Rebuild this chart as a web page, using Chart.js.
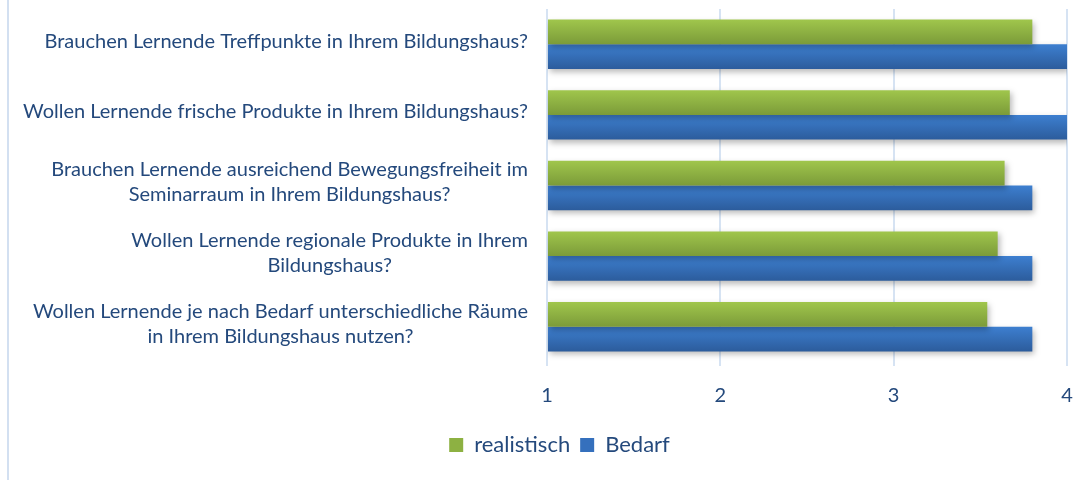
<!DOCTYPE html>
<html>
<head>
<meta charset="utf-8">
<script src="https://cdn.jsdelivr.net/npm/chart.js@4"></script>
<style>
  html, body { margin: 0; padding: 0; background: #fff; }
  #wrap { width: 1088px; height: 480px; position: relative; }
</style>
</head>
<body>
<div id="wrap"><canvas id="miGrafico" width="1088" height="480"></canvas></div>
<script>
const categories = [
  ['Brauchen Lernende Treffpunkte in Ihrem Bildungshaus?'],
  ['Wollen Lernende frische Produkte in Ihrem Bildungshaus?'],
  ['Brauchen Lernende ausreichend Bewegungsfreiheit im', 'Seminarraum in Ihrem Bildungshaus?'],
  ['Wollen Lernende regionale Produkte in Ihrem', 'Bildungshaus?'],
  ['Wollen Lernende je nach Bedarf unterschiedliche Räume', 'in Ihrem Bildungshaus nutzen?'],
]
const realistisch = [3.8, 3.67, 3.64, 3.6, 3.54]
const bedarf = [4, 4, 3.8, 3.8, 3.8]
const xTicks = [1, 2, 3, 4]

const textColor = '#24497c'
const fontName = 'Lato, "Open Sans", sans-serif'
const catPct = 0.7

// gradient per bar, worked out from the category scale
const barGradient = (top, bottom) => (ctx) => {
  const chart = ctx.chart
  const y = chart.scales.y
  if (!y || !chart.chartArea || ctx.dataIndex === undefined) return bottom
  const n = categories.length
  const catH = y.height / n
  const center = y.getPixelForValue(ctx.dataIndex)
  const groupH = catH * catPct
  const barH = groupH / 2
  const y0 = center - groupH / 2 + ctx.datasetIndex * barH
  const g = chart.ctx.createLinearGradient(0, y0, 0, y0 + barH)
  g.addColorStop(0, top)
  g.addColorStop(1, bottom)
  return g
}

const framePlugin = {
  id: 'frame',
  afterLayout: (chart) => {
    // legend sits a bit right of centre in the original
    chart.legend.left += 26
    chart.legend.right += 26
  },
  beforeDraw: (chart) => {
    const c = chart.ctx
    c.save()
    c.strokeStyle = '#d3e0f1'
    c.lineWidth = 2
    c.beginPath()
    c.moveTo(8, 0)
    c.lineTo(8, chart.height)
    c.stroke()
    c.restore()
  },
  beforeDatasetsDraw: (chart) => {
    const c = chart.ctx
    c.save()
    c.shadowColor = 'rgba(0,0,0,0.28)'
    c.shadowBlur = 6
    c.shadowOffsetX = 2
    c.shadowOffsetY = 3
  },
  afterDatasetsDraw: (chart) => {
    chart.ctx.restore()
  },
}

// category labels: block right aligned, lines centred inside the block
const labelPlugin = {
  id: 'catLabels',
  afterDraw: (chart) => {
    const c = chart.ctx
    const y = chart.scales.y
    const right = chart.chartArea.left - 19
    const lineH = 25
    c.save()
    c.font = '20px ' + fontName
    c.fillStyle = textColor
    c.textAlign = 'center'
    c.textBaseline = 'middle'
    categories.forEach((lines, i) => {
      const w = Math.max(...lines.map((l) => c.measureText(l).width))
      const cx = right - w / 2
      const cy = y.getPixelForValue(i) - 3
      lines.forEach((l, k) => {
        c.fillText(l, cx, cy + (k - (lines.length - 1) / 2) * lineH)
      })
    })
    c.restore()
  },
}

const ctx = document.getElementById('miGrafico').getContext('2d')
const myChart = new Chart(ctx, {
  type: 'bar',
  data: {
    labels: categories,
    datasets: [
      {
        label: 'realistisch',
        data: realistisch,
        backgroundColor: barGradient('#a0c64c', '#7b9b39'),
        borderWidth: 0,
      },
      {
        label: 'Bedarf',
        data: bedarf,
        backgroundColor: barGradient('#3d7fd0', '#2c5c9c'),
        borderWidth: 0,
      },
    ],
  },
  options: {
    indexAxis: 'y',
    responsive: false,
    animation: false,
    base: 1,
    barPercentage: 1,
    categoryPercentage: catPct,
    layout: { padding: { left: 0, right: 21, top: 9, bottom: 14 } },
    plugins: {
      tooltip: { enabled: false },
      legend: {
        position: 'bottom',
        labels: {
          color: textColor,
          font: { family: fontName, size: 22 },
          boxWidth: 14,
          boxHeight: 14,
          padding: 10,
          generateLabels: (chart) =>
            chart.data.datasets.map((ds, i) => ({
              text: ds.label,
              fillStyle: i === 0 ? '#8db142' : '#3570bd',
              strokeStyle: 'transparent',
              lineWidth: 0,
              fontColor: textColor,
              datasetIndex: i,
            })),
        },
      },
    },
    scales: {
      x: {
        min: 1,
        max: 4,
        afterBuildTicks: (s) => {
          s.ticks = xTicks.map((v) => ({ value: v }))
        },
        afterFit: (s) => {
          s.height = 62
          s.paddingLeft = 0
          s.paddingRight = 0
        },
        ticks: {
          color: textColor,
          font: { family: fontName, size: 20 },
          padding: 18,
        },
        grid: {
          color: '#d6e3f3',
          lineWidth: 2,
          tickLength: 4,
        },
        border: { display: false },
      },
      y: {
        ticks: { display: false },
        grid: { display: false },
        border: { display: false },
        afterFit: (s) => {
          s.width = 547
        },
      },
    },
  },
  plugins: [framePlugin, labelPlugin],
})
</script>
</body>
</html>
